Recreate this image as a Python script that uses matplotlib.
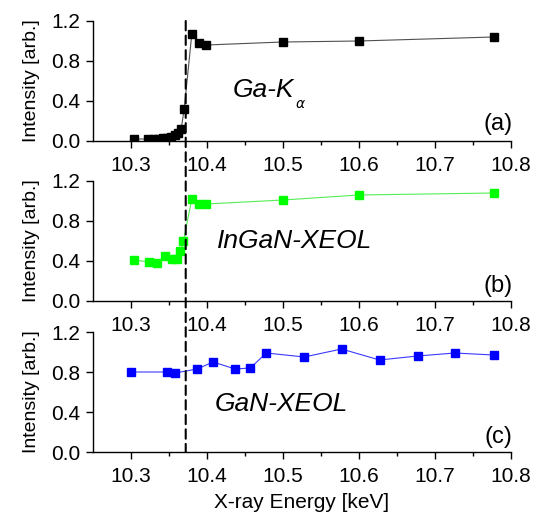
"""Three stacked panels: Ga-K alpha yield, InGaN and GaN XEOL vs X-ray energy."""

import matplotlib

matplotlib.use("Agg")
import matplotlib.pyplot as plt
from matplotlib.patches import ConnectionPatch

plt.rcParams["font.family"] = ["Liberation Sans", "DejaVu Sans"]

# panel (a): Ga-K alpha fluorescence
energy_a = [10.304, 10.323, 10.330, 10.336, 10.342, 10.348, 10.353, 10.358,
            10.362, 10.366, 10.370, 10.380, 10.389, 10.399, 10.500, 10.600, 10.777]
inten_a = [0.02, 0.02, 0.02, 0.025, 0.03, 0.035, 0.04, 0.06,
           0.08, 0.12, 0.32, 1.07, 0.98, 0.96, 0.99, 1.00, 1.04]

# panel (b): InGaN XEOL
energy_b = [10.304, 10.324, 10.334, 10.345, 10.354, 10.360, 10.365, 10.369,
            10.380, 10.389, 10.399, 10.500, 10.600, 10.777]
inten_b = [0.41, 0.39, 0.38, 0.45, 0.42, 0.42, 0.50, 0.60,
           1.02, 0.97, 0.97, 1.01, 1.06, 1.08]

# panel (c): GaN XEOL
energy_c = [10.300, 10.347, 10.358, 10.387, 10.408, 10.437, 10.457, 10.478,
            10.528, 10.577, 10.627, 10.677, 10.726, 10.777]
inten_c = [0.80, 0.80, 0.79, 0.83, 0.90, 0.83, 0.84, 0.99,
           0.95, 1.03, 0.92, 0.96, 0.99, 0.97]

edge_energy = 10.372
x_ticks = [10.3, 10.4, 10.5, 10.6, 10.7, 10.8]
y_ticks = [0.0, 0.4, 0.8, 1.2]

fig = plt.figure(figsize=(5.42, 5.15), dpi=100)
left, width, height = 93 / 542, 418 / 542, 120 / 515
bottoms = [1 - 141 / 515, 1 - 301 / 515, 1 - 452 / 515]
axes = [fig.add_axes([left, b, width, height]) for b in bottoms]

series = [
    (energy_a, inten_a, "black", "#505050", 6.0),
    (energy_b, inten_b, "#00ff00", "#55ee55", 6.0),
    (energy_c, inten_c, "#0000ff", "#3a3aff", 5.5),
]
for ax, (xs, ys, mc, lc, ms) in zip(axes, series):
    ax.plot(xs, ys, "-", color=lc, lw=0.8, zorder=2)
    ax.plot(xs, ys, "s", color=mc, ms=ms, mec=mc, zorder=3)
    ax.set_xlim(10.25, 10.8)
    ax.set_ylim(0, 1.2)
    ax.set_xticks(x_ticks)
    ax.set_xticks([10.35, 10.45, 10.55, 10.65, 10.75], minor=True)
    ax.set_yticks(y_ticks)
    ax.set_yticklabels([f"{v:.1f}" for v in y_ticks])
    ax.tick_params(axis="both", which="major", direction="out", length=5,
                   width=1, labelsize=15, pad=4)
    ax.tick_params(axis="x", which="major", pad=6)
    ax.tick_params(axis="x", which="minor", direction="out", length=3, width=1)
    ax.spines[["top", "right"]].set_visible(False)
    for s in ("left", "bottom"):
        ax.spines[s].set_linewidth(1)
    ax.set_ylabel("Intensity [arb.]", fontsize=14, labelpad=8)
    ax.patch.set_visible(False)

axes[2].set_xlabel("X-ray Energy [keV]", fontsize=15, labelpad=5)

# panel annotations
axes[0].text(10.434, 0.44, "Ga-K", style="italic", fontsize=19)
axes[0].text(10.516, 0.33, r"$\alpha$", fontsize=10, style="italic")
axes[1].text(10.413, 0.53, "InGaN-XEOL", style="italic", fontsize=19)
axes[2].text(10.41, 0.41, "GaN-XEOL", style="italic", fontsize=19)
for ax, tag, yb in zip(axes, ["(a)", "(b)", "(c)"], [0.11, 0.09, 0.09]):
    ax.text(10.802, yb, tag, ha="right", fontsize=17)

# absorption edge marker spanning all three panels
edge = ConnectionPatch(xyA=(edge_energy, 1.2), coordsA=axes[0].transData,
                       xyB=(edge_energy, 0.0), coordsB=axes[2].transData,
                       color="black", lw=1.5, linestyle=(0, (4.5, 2.5)), zorder=5)
fig.add_artist(edge)

fig.savefig("out.png", dpi=100)
